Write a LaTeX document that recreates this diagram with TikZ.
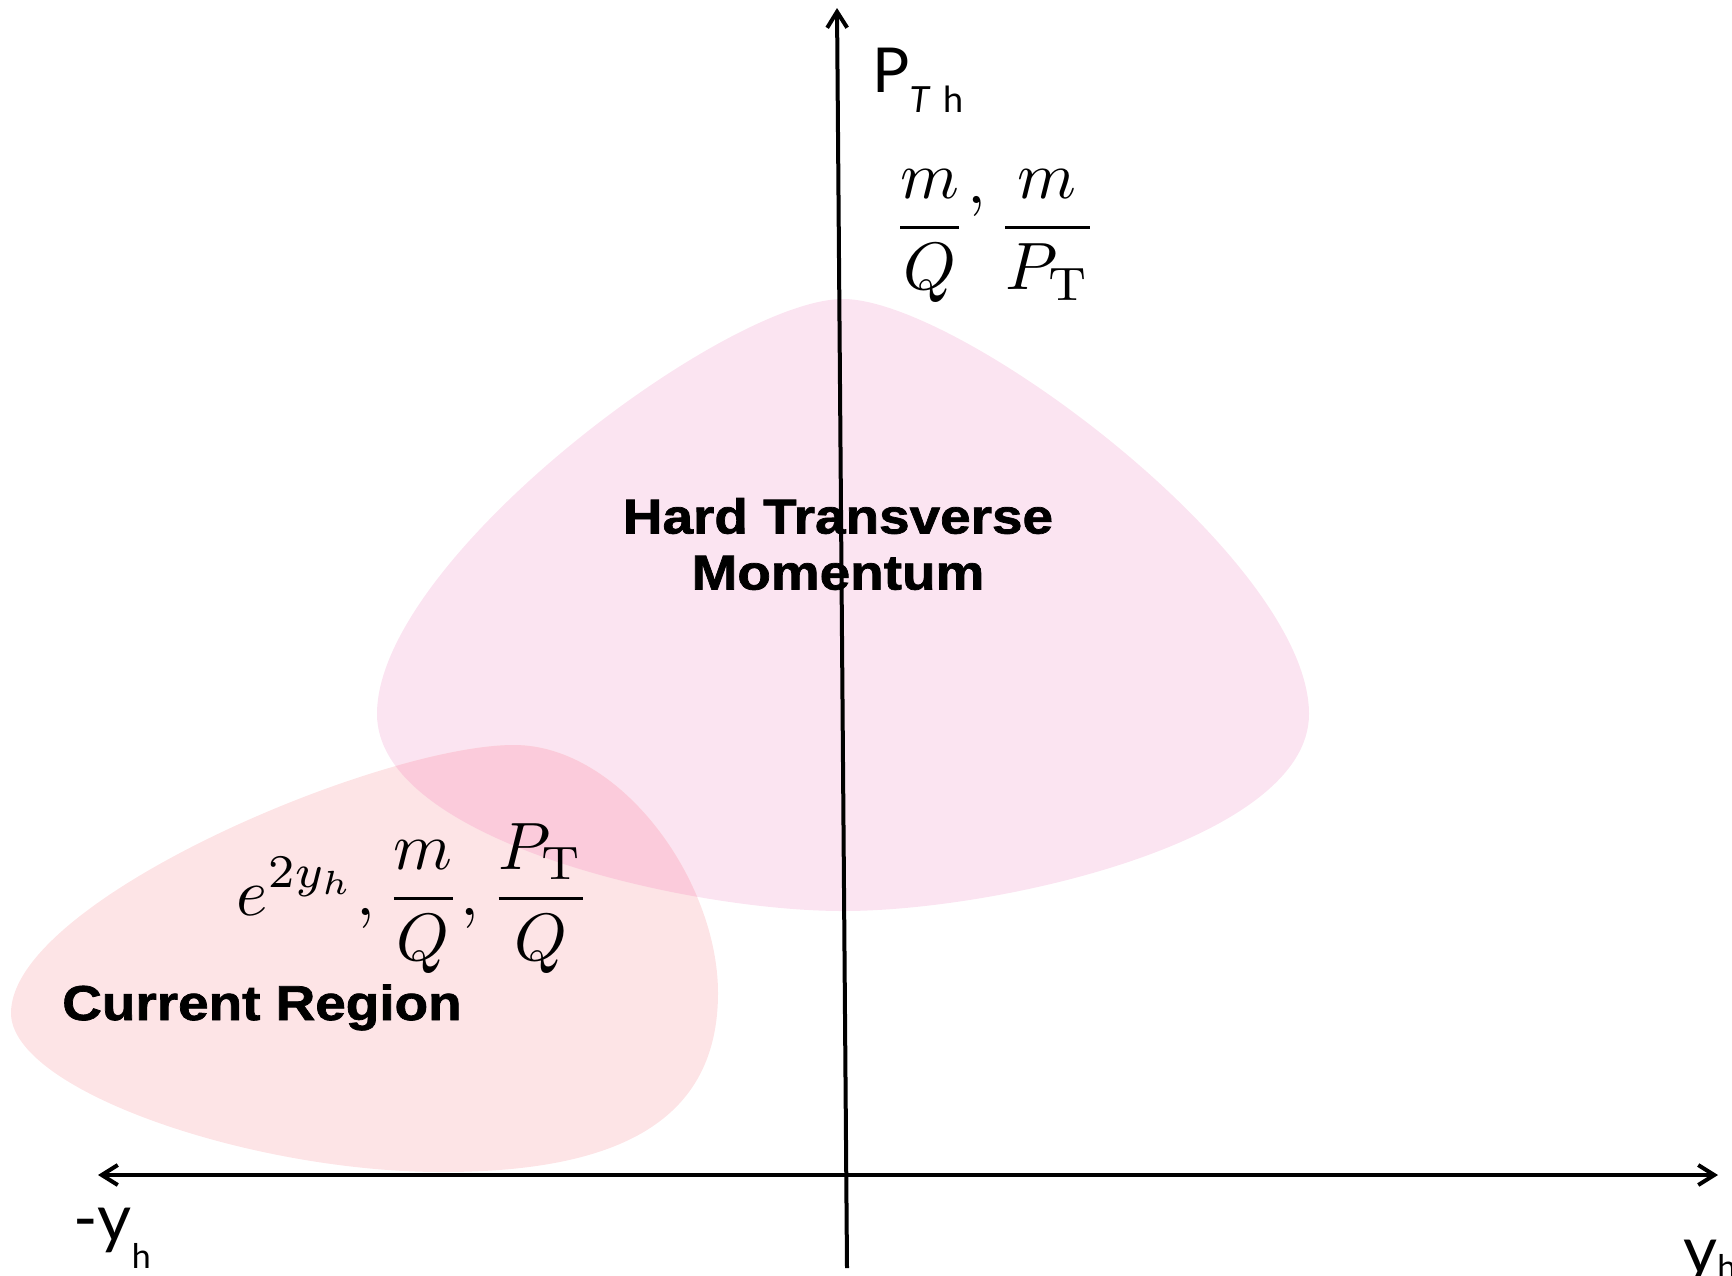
\RequirePackage{fix-cm}
\documentclass[tikz,border=0pt]{standalone}
\usepackage{amsmath}
\usepackage{graphicx}
\usepackage{fontspec}
\usepackage{xcolor}
\usepackage{tikz}
\usetikzlibrary{arrows.meta}
\newfontfamily\regionfont{Liberation Sans Bold}[FakeStretch=1.12,FakeBold=1.5]
\newfontfamily\axisfont{Lato}
\definecolor{ink}{RGB}{0,0,0}
\definecolor{hardfill}{RGB}{251,228,241}
\definecolor{currentfill}{RGB}{253,228,230}
\definecolor{overlapfill}{RGB}{251,203,219}
\newcommand{\hardblob}{(843,299) .. controls (960,299) and (1309,560) .. (1309,714)
  .. controls (1309,840) and (1000,911) .. (843,911)
  .. controls (686,911) and (377,840) .. (377,714)
  .. controls (377,560) and (726,299) .. (843,299) -- cycle}
\newcommand{\currentblob}{(514,745) .. controls (620,745) and (718,880) .. (718,993)
  .. controls (718,1120) and (620,1172) .. (442,1172)
  .. controls (250,1172) and (11,1090) .. (11,1013)
  .. controls (11,900) and (380,745) .. (514,745) -- cycle}
\newcommand{\bigmath}[1]{\scalebox{3.35}{$\displaystyle #1$}}
\tikzset{
  axisline/.style={line width=2pt,draw=ink},
  tipend/.style={-{Straight Barb[length=8pt,width=10pt]}},
  tipboth/.style={{Straight Barb[length=8pt,width=10pt]}-{Straight Barb[length=8pt,width=10pt]}},
  regionlabel/.style={font=\regionfont\fontsize{24.5}{28}\selectfont,align=center,inner sep=0pt,text=ink},
  axislabel/.style={font=\axisfont\fontsize{33}{36}\selectfont,inner sep=0pt,anchor=base west,text=ink},
  ratiolabel/.style={inner sep=0pt,anchor=base,text=ink}
}
\begin{document}
\begin{tikzpicture}[x=0.5pt,y=-0.5pt]
  \useasboundingbox (0,0) rectangle (1732,1275);
  \fill[hardfill] \hardblob;
  \fill[currentfill] \currentblob;
  \begin{scope}
    \clip \hardblob;
    \fill[overlapfill] \currentblob;
  \end{scope}
  \node[regionlabel] (hard) at (838,544) {Hard Transverse\\Momentum};
  \node[regionlabel,anchor=base] (current) at (262,1020) {Current Region};
  \coordinate (xleft) at (98,1175);
  \coordinate (xright) at (1718,1175);
  \coordinate (ybottom) at (847,1268);
  \coordinate (ytop) at (837,8);
  \draw[axisline,tipboth] (xleft) -- (xright);
  \draw[axisline,tipend] (ybottom) -- (ytop);
  \node[axislabel,font=\axisfont\fontsize{31}{36}\selectfont] (pth) at (872,92) {P\raisebox{-10pt}{\fontsize{18}{18}\selectfont\textit{T}\hspace{0.35em}h}};
  \node[axislabel] (yneg) at (73,1241) {-y\raisebox{-13.5pt}{\fontsize{17}{17}\selectfont h}};
  \node[axislabel] (ypos) at (1683,1273) {y\raisebox{-3pt}{\fontsize{17}{17}\selectfont h}};
  \node[ratiolabel] (hardratio) at (995,244) {\bigmath{\frac{m}{Q}\raisebox{6pt}{$,$}\,\frac{m}{P_{\mathrm{T}}}}};
  \node[ratiolabel] (currentratio) at (414,915) {\bigmath{e^{2y_h},\frac{m}{Q},\frac{P_{\mathrm{T}}}{Q}}};
\end{tikzpicture}
\end{document}
